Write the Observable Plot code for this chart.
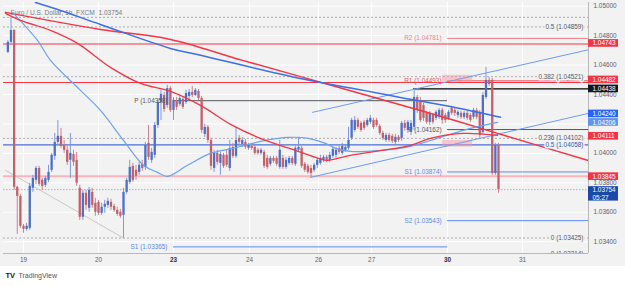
<!DOCTYPE html>
<html><head><meta charset="utf-8">
<script src="https://cdn.jsdelivr.net/npm/d3@7"></script>
<script src="https://cdn.jsdelivr.net/npm/@observablehq/plot@0.6"></script>
<style>
html,body{margin:0;padding:0;background:#fff;}
#chart{width:625px;height:286px;background:linear-gradient(to bottom,#f2f2f2 0,#f2f2f2 266px,#ffffff 266px);}
#chart svg{display:block;}
</style></head><body><div id="chart"></div>
<script>
// ---- candles (1h bars, index 0 = start of Dec 19) ----
const firstIndex = -5;
const open = [
1.04686,1.04754,1.04835,1.03769,1.03708,1.03505,1.03484,1.03491,1.03763,1.03817,
1.03898,1.03817,1.03783,1.03817,1.03885,1.03980,1.04075,1.04116,1.04054,1.04021,
1.03953,1.03993,1.03953,1.03763,1.03566,1.03729,1.03627,1.03735,1.03661,1.03667,
1.03593,1.03634,1.03647,1.03667,1.03640,1.03613,1.03600,1.03579,1.03735,1.03803,
1.03912,1.03885,1.03871,1.03926,1.03905,1.04068,1.03953,1.03987,1.04190,1.04346,
1.04394,1.04326,1.04441,1.04292,1.04353,1.04333,1.04367,1.04346,1.04387,1.04414,
1.04394,1.04421,1.04373,1.04129,1.04177,1.04088,1.03898,1.04000,1.03932,1.03987,
1.03987,1.03898,1.04041,1.03980,1.04102,1.04061,1.04075,1.04034,1.04048,1.04041,
1.04021,1.04000,1.04007,1.03966,1.03926,1.03966,1.03966,1.03905,1.03966,1.03905,
1.03932,1.03966,1.03926,1.04021,1.04034,1.03926,1.03912,1.03898,1.03885,1.03919,
1.03932,1.03953,1.03973,1.03953,1.03980,1.03987,1.04034,1.04000,1.04021,1.04034,
1.04102,1.04156,1.04224,1.04204,1.04211,1.04190,1.04211,1.04224,1.04224,1.04183,
1.04136,1.04088,1.04122,1.04116,1.04075,1.04109,1.04102,1.04204,1.04156,1.04143,
1.04177,1.04380,1.04360,1.04326,1.04272,1.04211,1.04258,1.04238,1.04245,1.04292,
1.04258,1.04238,1.04306,1.04292,1.04258,1.04272,1.04245,1.04272,1.04258,1.04245,
1.04292,1.04279,1.04143,1.04380,1.04496,1.04496,1.03864,1.04054];
const high = [
1.04767,1.04924,1.04842,1.03776,1.03722,1.03518,1.03525,1.03797,1.03851,1.03912,
1.03912,1.03830,1.03844,1.03919,1.04000,1.04136,1.04224,1.04170,1.04088,1.04048,
1.04136,1.04021,1.04007,1.03783,1.03749,1.03749,1.03769,1.03763,1.03695,1.03681,
1.03661,1.03681,1.03695,1.03688,1.03654,1.03634,1.03620,1.03763,1.03830,1.03953,
1.03932,1.03919,1.03939,1.03953,1.04075,1.04190,1.04034,1.04211,1.04360,1.04428,
1.04414,1.04462,1.04455,1.04380,1.04380,1.04394,1.04380,1.04428,1.04434,1.04455,
1.04441,1.04434,1.04387,1.04197,1.04190,1.04102,1.04021,1.04021,1.04007,1.04000,
1.04021,1.04088,1.04068,1.04177,1.04122,1.04109,1.04095,1.04068,1.04061,1.04054,
1.04034,1.04034,1.04021,1.03987,1.03980,1.03980,1.03980,1.04088,1.03987,1.03973,
1.03980,1.03980,1.04048,1.04109,1.04048,1.03939,1.03926,1.03919,1.03932,1.03966,
1.03987,1.03987,1.03987,1.04007,1.04048,1.04041,1.04048,1.04068,1.04061,1.04177,
1.04238,1.04251,1.04238,1.04217,1.04224,1.04238,1.04258,1.04238,1.04238,1.04197,
1.04150,1.04136,1.04136,1.04129,1.04129,1.04122,1.04217,1.04224,1.04224,1.04224,
1.04441,1.04394,1.04380,1.04340,1.04285,1.04285,1.04272,1.04292,1.04306,1.04306,
1.04272,1.04292,1.04319,1.04306,1.04292,1.04285,1.04285,1.04285,1.04272,1.04306,
1.04306,1.04292,1.04414,1.04584,1.04516,1.04509,1.04068,1.04068];
const low = [
1.04679,1.04740,1.03749,1.03450,1.03491,1.03457,1.03471,1.03477,1.03735,1.03790,
1.03776,1.03749,1.03769,1.03803,1.03871,1.03953,1.04054,1.04034,1.04000,1.03919,
1.03830,1.03912,1.03776,1.03545,1.03545,1.03613,1.03600,1.03627,1.03573,1.03579,
1.03579,1.03593,1.03627,1.03613,1.03600,1.03573,1.03559,1.03425,1.03722,1.03790,
1.03803,1.03817,1.03851,1.03878,1.03885,1.03953,1.03932,1.03966,1.04170,1.04224,
1.04279,1.04306,1.04279,1.04224,1.04292,1.04319,1.04299,1.04333,1.04367,1.04380,
1.04387,1.04360,1.04136,1.04109,1.04068,1.03885,1.03871,1.03919,1.03851,1.03898,
1.03905,1.03878,1.03966,1.03966,1.04054,1.04041,1.04027,1.04021,1.04021,1.03987,
1.03987,1.03987,1.03898,1.03892,1.03912,1.03932,1.03912,1.03892,1.03892,1.03892,
1.03919,1.03919,1.03912,1.04007,1.03898,1.03871,1.03858,1.03837,1.03871,1.03898,
1.03919,1.03939,1.03939,1.03939,1.03966,1.03966,1.03993,1.03987,1.04007,1.04021,
1.04088,1.04143,1.04163,1.04143,1.04156,1.04177,1.04197,1.04163,1.04177,1.04122,
1.04088,1.04075,1.04075,1.04068,1.04061,1.04075,1.04082,1.04150,1.04136,1.04122,
1.04156,1.04272,1.04211,1.04217,1.04197,1.04190,1.04197,1.04224,1.04231,1.04197,
1.04204,1.04224,1.04258,1.04251,1.04238,1.04231,1.04231,1.04224,1.04211,1.04231,
1.04231,1.04102,1.04129,1.04367,1.04455,1.03851,1.03851,1.03729];
const close = [
1.04754,1.04835,1.03769,1.03708,1.03505,1.03484,1.03505,1.03776,1.03830,1.03898,
1.03790,1.03776,1.03830,1.03871,1.03987,1.04075,1.04116,1.04048,1.04021,1.03939,
1.04000,1.03939,1.03797,1.03566,1.03729,1.03647,1.03749,1.03647,1.03600,1.03593,
1.03634,1.03654,1.03674,1.03634,1.03613,1.03586,1.03573,1.03735,1.03817,1.03905,
1.03817,1.03844,1.03919,1.03898,1.04054,1.03973,1.04007,1.04190,1.04346,1.04400,
1.04299,1.04441,1.04292,1.04360,1.04313,1.04373,1.04313,1.04407,1.04414,1.04394,
1.04428,1.04373,1.04156,1.04177,1.04088,1.03912,1.04000,1.03939,1.03993,1.03912,
1.03919,1.04034,1.03980,1.04088,1.04075,1.04088,1.04041,1.04054,1.04034,1.04000,
1.04000,1.04021,1.03912,1.03905,1.03966,1.03946,1.03926,1.04021,1.03905,1.03953,
1.03966,1.03932,1.04034,1.04041,1.03912,1.03885,1.03871,1.03864,1.03919,1.03953,
1.03966,1.03973,1.03953,1.03987,1.04027,1.04021,1.04007,1.04048,1.04041,1.04088,
1.04224,1.04224,1.04177,1.04156,1.04170,1.04224,1.04238,1.04177,1.04190,1.04136,
1.04102,1.04122,1.04088,1.04082,1.04109,1.04088,1.04204,1.04170,1.04211,1.04204,
1.04380,1.04292,1.04224,1.04238,1.04211,1.04272,1.04211,1.04279,1.04292,1.04224,
1.04224,1.04279,1.04272,1.04272,1.04279,1.04245,1.04272,1.04238,1.04224,1.04292,
1.04245,1.04122,1.04394,1.04496,1.04468,1.03864,1.04054,1.03754];

// ---- time axis ----
const dayTicks  = [0, 24, 48, 72.3, 94.4, 111.4, 135.7, 159.7];
const dayLabels = ["19","20","23","24","26","27","30","31"];
const weekStart = ["23","30"];

// ---- price axis (1.04200 sits under the MA badges) ----
const gridTicks = [1.034,1.036,1.038,1.040,1.042,1.044,1.046,1.048,1.050];
const yTicks = [1.034,1.036,1.038,1.040,1.044,1.046,1.048,1.050];

// ---- indicator lines (time index, price) ----
const trendT = [-5.76, 24.64, 47.04, 70.08, 99.84, 127.04, 151.68, 180.48];
const trendP = [1.04958,1.04842,1.04774,1.04632,1.04455,1.04292,1.04136,1.03953];
const maSlowT = [3.84, 11.84, 24.64, 47.04, 56.64, 88.64, 108.8, 120.64, 136.64, 152.64];
const maSlowP = [1.05025,1.04971,1.04876,1.04713,1.04666,1.04509,1.04428,1.04380,1.04319,1.04245];
const maFastT = [-3.2,4.48,8.64,18.24,24.64,32.0,38.4,42.88,46.08,52.48,59.84,66.88,77.44,84.8,91.2,96.64,99.84,104.64,114.24,123.84,133.44,143.04,151.68];
const maFastP = [1.04951,1.04767,1.04632,1.04428,1.04292,1.04088,1.03919,1.03871,1.03844,1.03919,1.04000,1.04034,1.04088,1.04109,1.04102,1.04068,1.04034,1.04014,1.04021,1.04048,1.04109,1.04170,1.04211];
const emaT = [-5.76,-0.96,8.64,17.28,27.84,37.44,47.04,56.64,66.88,77.44,87.04,94.4,97.28,104.64,123.84,130.24,140.8,151.68];
const emaP = [1.04951,1.04903,1.04835,1.04747,1.04584,1.04475,1.04421,1.04326,1.04190,1.04088,1.04021,1.03966,1.03953,1.03987,1.04054,1.04102,1.04136,1.04122];
const chanUpT = [92.5, 180.8],  chanUpP = [1.04279, 1.04704];
const chanLoT = [91.84, 180.8], chanLoP = [1.03837, 1.04272];
const fibLinkT = [-5.76, 32],   fibLinkP = [1.03885, 1.03425];

// ---- horizontal levels ----
const dashedLevels = [1.04924, 1.04859, 1.04521, 1.04102, 1.03425];
const fibLabels = [
  {p:1.04859, label:"0.5 (1.04859)", color:"#55585f"},
  {p:1.04521, label:"0.382 (1.04521)", color:"#55585f"},
  {p:1.04102, label:"0.236 (1.04102)", color:"#55585f"},
  {p:1.04058, label:"0.5 (1.04058)", color:"#3556b8"},
  {p:1.03425, label:"0 (1.03425)", color:"#55585f"},
  {p:1.03314, label:"0 (1.03314)", color:"#55585f"}];
const solidLevels = [
  {p:1.04743, color:"#f23645", w:1},
  {p:1.04482, color:"#f23645", w:1},
  {p:1.03845, color:"#f8b4ba", w:2},
  {p:1.04058, color:"#4a6fd6", w:1}];
const pivots = [
  {label:"R2 (1.04781)", p:1.04781, t1:135.7, t2:180.8, color:"#ee7f8e"},
  {label:"R1 (1.04493)", p:1.04493, t1:135.7, t2:180.8, color:"#f0505e"},
  {label:"P (1.04162)",  p:1.04162, t1:135.7, t2:180.8, color:"#55585f"},
  {label:"S1 (1.03874)", p:1.03874, t1:135.7, t2:180.8, color:"#5b8bee"},
  {label:"S2 (1.03543)", p:1.03543, t1:135.7, t2:180.8, color:"#5b8bee"},
  {label:"P (1.04358)",  p:1.04358, t1:48,    t2:135.7, color:"#55585f"},
  {label:"S1 (1.03365)", p:1.03365, t1:48,    t2:135.7, color:"#5b8bee"}];
const blackLevel = {p:1.04438, t1:124.8, t2:180.8};
const pinkBoxes = [
  {t1:134.1, t2:143.7, p1:1.04484, p2:1.04530},
  {t1:134.1, t2:143.7, p1:1.04043, p2:1.04088}];

// ---- price-scale badges ----
const badges = [
  {at:1.04747, label:"1.04743", color:"#f23645"},
  {at:1.04499, label:"1.04482", color:"#f23645"},
  {at:1.04438, label:"1.04438", color:"#131722"},
  {at:1.04268, label:"1.04240", color:"#2962ff"},
  {at:1.04210, label:"1.04206", color:"#5e95f2"},
  {at:1.04116, label:"1.04111", color:"#f23645"},
  {at:1.03842, label:"1.03845", color:"#f23645"}];
const lastPrice = 1.03754, countdown = "05:27";
const title = "Euro / U.S. Dollar, 1h, FXCM  1.03754";

// ---- build ----
const xMin = -6.4, xMax = 180.8, yMin = 1.03320, yMax = 1.05025;
const badgeW = 9.6, badgeH = 0.00026;
const bg = "#f2f2f2";
const candles = close.map((c, k) => ({t: firstIndex + k, o: open[k], h: high[k], l: low[k], c, up: c >= open[k]}));
const pts = (T, P) => T.map((t, i) => ({t, p: P[i]}));
const font = "Liberation Sans, Arial, sans-serif";
const fs = 6.4;

const chart = Plot.plot({
  width: 625, height: 286,
  marginTop: 2, marginBottom: 33, marginLeft: 3, marginRight: 37,
  x: {domain: [xMin, xMax], axis: null},
  y: {domain: [yMin, yMax]},
  style: {background: "transparent", fontFamily: font, fontSize: fs + "px", overflow: "visible"},
  marks: [
    Plot.gridY(gridTicks, {stroke: "#ffffff", strokeOpacity: 1}),
    Plot.gridX(dayTicks, {stroke: "#ffffff", strokeOpacity: 1}),
    Plot.text([title], {frameAnchor: "top-left", dx: 7, dy: 8, text: d => d, textAnchor: "start", fill: "#787b86", fontSize: 6.6}),
    Plot.ruleY(dashedLevels, {stroke: "#9a9a9a", strokeWidth: 0.8, strokeDasharray: "2,2"}),
    Plot.ruleY([lastPrice], {stroke: "#8ea3cc", strokeWidth: 0.8, strokeDasharray: "1.5,1.5"}),
    Plot.ruleY(solidLevels.filter(d => d.w < 1.5), {y: "p", stroke: "color", strokeWidth: 1.1}),
    Plot.ruleY(solidLevels.filter(d => d.w >= 1.5), {y: "p", stroke: "color", strokeWidth: 2}),
    Plot.ruleY(pivots, {y: "p", x1: "t1", x2: "t2", stroke: "color", strokeWidth: 1}),
    Plot.ruleY([blackLevel], {y: "p", x1: "t1", x2: "t2", stroke: "#000", strokeWidth: 1.2}),
    Plot.rect(pinkBoxes, {x1: "t1", x2: "t2", y1: "p1", y2: "p2", fill: "#f59aa3", fillOpacity: 0.5}),
    Plot.line(pts(fibLinkT, fibLinkP), {x: "t", y: "p", stroke: "#bdbdbd", strokeWidth: 0.8}),
    Plot.line(pts(chanUpT, chanUpP), {x: "t", y: "p", stroke: "#6d9cf2", strokeWidth: 1}),
    Plot.line(pts(chanLoT, chanLoP), {x: "t", y: "p", stroke: "#6d9cf2", strokeWidth: 1}),
    // candles
    Plot.ruleX(candles, {x: "t", y1: "l", y2: "h", stroke: d => d.up ? "#7c98de" : "#d0838a", strokeWidth: 1}),
    Plot.ruleX(candles, {x: "t", y1: "o", y2: "c", stroke: d => d.up ? "#4d6fc6" : "#c4606a", strokeWidth: 2.3}),
    // moving averages / trend
    Plot.line(pts(trendT, trendP), {x: "t", y: "p", stroke: "#f23645", strokeWidth: 1.5, curve: "catmull-rom", clip: true}),
    Plot.line(pts(maSlowT, maSlowP), {x: "t", y: "p", stroke: "#3b6ee8", strokeWidth: 1.5, curve: "catmull-rom", clip: true}),
    Plot.line(pts(maFastT, maFastP), {x: "t", y: "p", stroke: "#6aa2f2", strokeWidth: 1.2, curve: "catmull-rom", clip: true}),
    Plot.line(pts(emaT, emaP), {x: "t", y: "p", stroke: "#f23645", strokeWidth: 1.3, curve: "catmull-rom", clip: true}),
    // labels
    Plot.text(pivots, {x: "t1", y: "p", text: "label", textAnchor: "end", dx: -6, fill: "color", fontSize: fs}),
    Plot.text(fibLabels, {y: "p", text: "label", frameAnchor: "right", dx: -5, textAnchor: "end", fill: "color", stroke: bg, strokeWidth: 3, fontSize: fs, clip: true}),
    // frame lines
    Plot.ruleY([yMin], {stroke: "#b8b8b8", strokeWidth: 1}),
    Plot.ruleX([xMax], {stroke: "#b8b8b8", strokeWidth: 1}),
    // price axis
    Plot.axisY(yTicks, {anchor: "right", tickSize: 0, tickPadding: 5, tickFormat: d3.format(".5f"), fill: "#5d606b", fontSize: fs}),
    Plot.rect(badges, {x1: () => xMax, x2: () => xMax + badgeW, y1: d => d.at - badgeH, y2: d => d.at + badgeH, fill: "color"}),
    Plot.text(badges, {x: () => xMax, y: "at", text: "label", dx: 4, textAnchor: "start", fill: "#fff", fontSize: fs}),
    Plot.rect([lastPrice], {x1: () => xMax, x2: () => xMax + badgeW, y1: d => d - 0.00078, y2: d => d + 0.00020, fill: "#1c48a8"}),
    Plot.text([lastPrice + "\n" + countdown], {x: () => xMax, y: () => lastPrice - 0.00029, text: d => d, dx: 4, textAnchor: "start", lineHeight: 1.25, fill: "#fff", fontSize: fs}),
    // time axis
    Plot.text(dayTicks.filter((d, i) => !weekStart.includes(dayLabels[i])), {x: d => d, frameAnchor: "bottom", lineAnchor: "top", dy: 4, text: d => dayLabels[dayTicks.indexOf(d)], fill: "#5d606b", fontSize: fs}),
    Plot.text(dayTicks.filter((d, i) => weekStart.includes(dayLabels[i])), {x: d => d, frameAnchor: "bottom", lineAnchor: "top", dy: 4, text: d => dayLabels[dayTicks.indexOf(d)], fill: "#2a2e39", fontWeight: "bold", fontSize: fs}),
    // logo
    Plot.text(["TV"], {frameAnchor: "bottom-left", dx: 2, dy: 24, text: d => d, textAnchor: "start", fill: "#131722", fontWeight: 900, fontSize: 7.5}),
    Plot.text(["TradingView"], {frameAnchor: "bottom-left", dx: 15, dy: 24, text: d => d, textAnchor: "start", fill: "#50535e", fontSize: 7})
  ]
});
document.getElementById("chart").appendChild(chart);
</script>
</body></html>
